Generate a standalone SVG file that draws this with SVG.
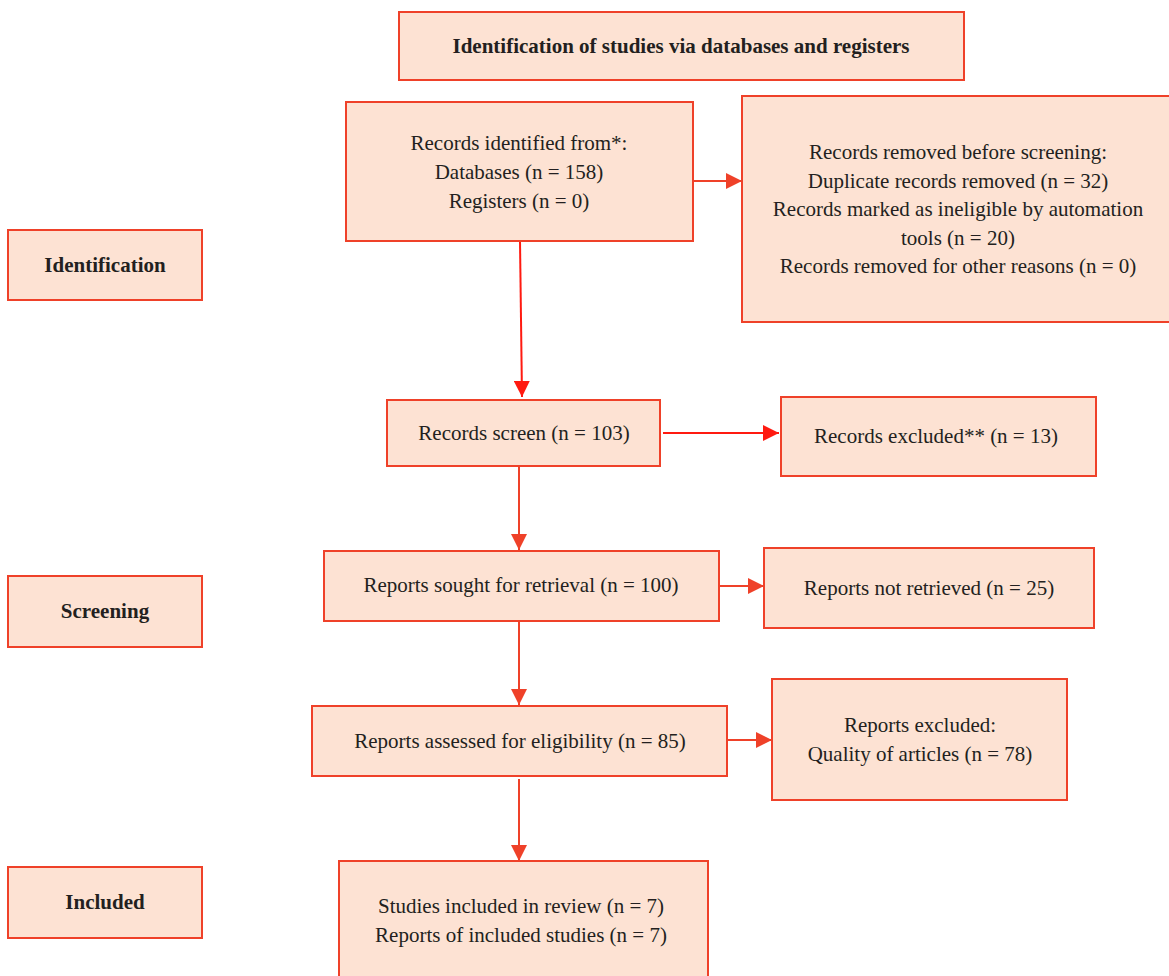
<svg xmlns="http://www.w3.org/2000/svg" width="1169" height="976" viewBox="0 0 1169 976">
<defs>
<style>
.box{fill:#fde2d3;stroke:#ef4129;stroke-width:2}
.t{font-family:"Liberation Serif",serif;font-size:21px;fill:#231f20;text-anchor:middle}
.b{font-family:"Liberation Serif",serif;font-size:21px;font-weight:bold;fill:#231f20;text-anchor:middle}
.c1{stroke:#ff1a10;stroke-width:2;fill:none}
.c2{stroke:#ef4129;stroke-width:2;fill:none}
</style>
<marker id="ar" viewBox="0 0 10 10" refX="10" refY="5" markerWidth="8" markerHeight="8" markerUnits="strokeWidth" orient="auto"><path d="M0,0L10,5L0,10z" fill="#ff1a10"/></marker>
<marker id="ao" viewBox="0 0 10 10" refX="10" refY="5" markerWidth="8" markerHeight="8" markerUnits="strokeWidth" orient="auto"><path d="M0,0L10,5L0,10z" fill="#ef4129"/></marker>
</defs>
<rect width="1169" height="976" fill="#fff"/>
<g id="connectors">
<line class="c2" x1="693" y1="181" x2="742" y2="181" marker-end="url(#ao)"/>
<line class="c1" x1="520" y1="241" x2="522" y2="397" marker-end="url(#ar)"/>
<line class="c1" x1="663" y1="433" x2="779" y2="433" marker-end="url(#ar)"/>
<line class="c2" x1="519" y1="466" x2="519" y2="550" marker-end="url(#ao)"/>
<line class="c2" x1="719" y1="586" x2="764" y2="586" marker-end="url(#ao)"/>
<line class="c2" x1="519" y1="621" x2="519" y2="705" marker-end="url(#ao)"/>
<line class="c2" x1="725" y1="740" x2="772" y2="740" marker-end="url(#ao)"/>
<line class="c2" x1="519" y1="779" x2="519" y2="861" marker-end="url(#ao)"/>
</g>
<g id="title"><rect class="box" x="399" y="12" width="565" height="68"/><text class="b" x="681" y="53">Identification of studies via databases and registers</text></g>
<g id="identified"><rect class="box" x="346" y="102" width="347" height="139"/>
<text class="t" x="519" y="150">Records identified from*:</text>
<text class="t" x="519" y="179">Databases (n = 158)</text>
<text class="t" x="519" y="208">Registers (n = 0)</text></g>
<g id="removed"><rect class="box" x="742" y="96" width="440" height="226"/>
<text class="t" x="958" y="159">Records removed before screening:</text>
<text class="t" x="958" y="188">Duplicate records removed (n = 32)</text>
<text class="t" x="958" y="216">Records marked as ineligible by automation</text>
<text class="t" x="958" y="245">tools (n = 20)</text>
<text class="t" x="958" y="273">Records removed for other reasons (n = 0)</text></g>
<g id="lab-identification"><rect class="box" x="8" y="230" width="194" height="70"/><text class="b" x="105" y="272">Identification</text></g>
<g id="screen"><rect class="box" x="387" y="400" width="273" height="66"/><text class="t" x="524" y="440">Records screen (n = 103)</text></g>
<g id="excluded"><rect class="box" x="781" y="397" width="315" height="79"/><text class="t" x="936" y="443">Records excluded** (n = 13)</text></g>
<g id="sought"><rect class="box" x="324" y="551" width="395" height="70"/><text class="t" x="521" y="592">Reports sought for retrieval (n = 100)</text></g>
<g id="notretrieved"><rect class="box" x="764" y="548" width="330" height="80"/><text class="t" x="929" y="595">Reports not retrieved (n = 25)</text></g>
<g id="lab-screening"><rect class="box" x="8" y="576" width="194" height="71"/><text class="b" x="105" y="618">Screening</text></g>
<g id="assessed"><rect class="box" x="312" y="706" width="415" height="70"/><text class="t" x="520" y="748">Reports assessed for eligibility (n = 85)</text></g>
<g id="repexcluded"><rect class="box" x="772" y="679" width="295" height="121"/>
<text class="t" x="920" y="732">Reports excluded:</text>
<text class="t" x="920" y="761">Quality of articles (n = 78)</text></g>
<g id="included"><rect class="box" x="339" y="861" width="369" height="130"/>
<text class="t" x="521" y="913">Studies included in review (n = 7)</text>
<text class="t" x="521" y="942">Reports of included studies (n = 7)</text></g>
<g id="lab-included"><rect class="box" x="8" y="867" width="194" height="71"/><text class="b" x="105" y="909">Included</text></g>
</svg>
